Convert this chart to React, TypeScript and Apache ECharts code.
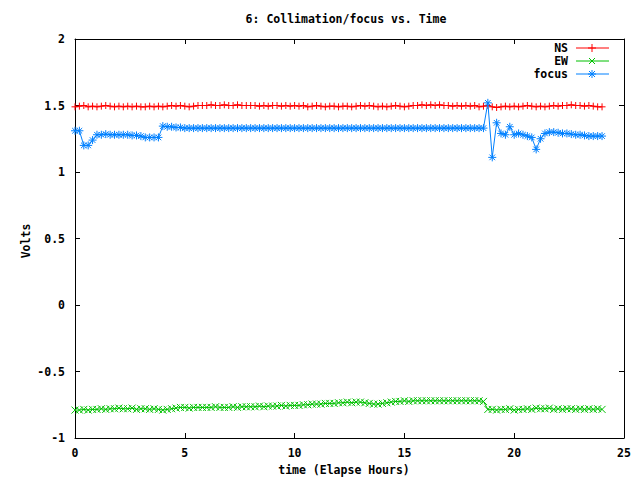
import React, { useEffect, useRef } from "react";
import * as echarts from "echarts";

const TITLE = "6: Collimation/focus vs. Time";
const X_NAME = "time (Elapse Hours)";
const Y_NAME = "Volts";
const SERIES_NAMES = ["NS", "EW", "focus"];
const COLORS = ["#ff0000", "#00c000", "#0080ff"];

const TIME = [
  0, 0.2, 0.4, 0.6, 0.8, 1, 1.2, 1.4, 1.6, 1.8,
  2, 2.2, 2.4, 2.6, 2.8, 3, 3.2, 3.4, 3.6, 3.8,
  4, 4.2, 4.4, 4.6, 4.8, 5, 5.2, 5.4, 5.6, 5.8,
  6, 6.2, 6.4, 6.6, 6.8, 7, 7.2, 7.4, 7.6, 7.8,
  8, 8.2, 8.4, 8.6, 8.8, 9, 9.2, 9.4, 9.6, 9.8,
  10, 10.2, 10.4, 10.6, 10.8, 11, 11.2, 11.4, 11.6, 11.8,
  12, 12.2, 12.4, 12.6, 12.8, 13, 13.2, 13.4, 13.6, 13.8,
  14, 14.2, 14.4, 14.6, 14.8, 15, 15.2, 15.4, 15.6, 15.8,
  16, 16.2, 16.4, 16.6, 16.8, 17, 17.2, 17.4, 17.6, 17.8,
  18, 18.2, 18.4, 18.6, 18.8, 19, 19.2, 19.4, 19.6, 19.8,
  20, 20.2, 20.4, 20.6, 20.8, 21, 21.2, 21.4, 21.6, 21.8,
  22, 22.2, 22.4, 22.6, 22.8, 23, 23.2, 23.4, 23.6, 23.8,
  24,
];

const NS = [
  1.49, 1.495, 1.5, 1.49, 1.495, 1.49, 1.495, 1.5, 1.495, 1.49,
  1.495, 1.49, 1.495, 1.49, 1.495, 1.49, 1.49, 1.495, 1.49, 1.495,
  1.49, 1.495, 1.5, 1.495, 1.5, 1.495, 1.49, 1.495, 1.5, 1.5,
  1.5, 1.505, 1.5, 1.5, 1.505, 1.5, 1.5, 1.505, 1.5, 1.5,
  1.5, 1.5, 1.495, 1.5, 1.495, 1.5, 1.5, 1.495, 1.5, 1.495,
  1.5, 1.495, 1.5, 1.49, 1.495, 1.5, 1.495, 1.49, 1.495, 1.495,
  1.49, 1.495, 1.495, 1.49, 1.495, 1.5, 1.495, 1.5, 1.495, 1.49,
  1.495, 1.49, 1.495, 1.5, 1.495, 1.49, 1.495, 1.5, 1.5, 1.505,
  1.5, 1.505, 1.5, 1.505, 1.5, 1.5, 1.495, 1.5, 1.495, 1.5,
  1.495, 1.5, 1.49, 1.495, 1.5, 1.49, 1.485, 1.49, 1.495, 1.49,
  1.495, 1.49, 1.495, 1.5, 1.495, 1.49, 1.495, 1.49, 1.495, 1.5,
  1.495, 1.5, 1.5, 1.505, 1.5, 1.5, 1.495, 1.5, 1.495, 1.49,
  1.49,
];

const EW = [
  -0.79, -0.79, -0.785, -0.79, -0.785, -0.785, -0.78, -0.785, -0.78, -0.78,
  -0.775, -0.78, -0.78, -0.775, -0.785, -0.78, -0.78, -0.785, -0.78, -0.785,
  -0.79, -0.785, -0.78, -0.775, -0.77, -0.77, -0.775, -0.77, -0.77, -0.77,
  -0.77, -0.77, -0.765, -0.77, -0.77, -0.77, -0.765, -0.77, -0.765, -0.765,
  -0.765, -0.765, -0.76, -0.765, -0.76, -0.76, -0.76, -0.755, -0.76, -0.755,
  -0.755, -0.755, -0.75, -0.75, -0.745, -0.745, -0.745, -0.74, -0.74, -0.74,
  -0.735, -0.735, -0.73, -0.735, -0.73, -0.73, -0.735, -0.74, -0.745, -0.745,
  -0.74, -0.735, -0.73, -0.725, -0.725, -0.72, -0.725, -0.72, -0.72, -0.72,
  -0.72, -0.72, -0.72, -0.72, -0.72, -0.72, -0.72, -0.72, -0.72, -0.72,
  -0.72, -0.72, -0.72, -0.725, -0.785, -0.785, -0.79, -0.785, -0.785, -0.78,
  -0.79, -0.785, -0.785, -0.78, -0.785, -0.775, -0.78, -0.78, -0.775, -0.785,
  -0.78, -0.785, -0.78, -0.78, -0.785, -0.78, -0.785, -0.78, -0.785, -0.78,
  -0.785,
];

const FOCUS = [
  1.31, 1.31, 1.2, 1.2, 1.24, 1.28, 1.28, 1.285, 1.28, 1.28,
  1.28, 1.28, 1.28, 1.275, 1.275, 1.27, 1.26, 1.26, 1.26, 1.26,
  1.345, 1.34, 1.34, 1.335, 1.335, 1.33, 1.33, 1.33, 1.33, 1.33,
  1.33, 1.33, 1.33, 1.33, 1.33, 1.33, 1.33, 1.33, 1.33, 1.33,
  1.33, 1.33, 1.33, 1.33, 1.33, 1.33, 1.33, 1.33, 1.33, 1.33,
  1.33, 1.33, 1.33, 1.33, 1.33, 1.33, 1.33, 1.33, 1.33, 1.33,
  1.33, 1.33, 1.33, 1.33, 1.33, 1.33, 1.33, 1.33, 1.33, 1.33,
  1.33, 1.33, 1.33, 1.33, 1.33, 1.33, 1.33, 1.33, 1.33, 1.33,
  1.33, 1.33, 1.33, 1.33, 1.33, 1.33, 1.33, 1.33, 1.33, 1.33,
  1.33, 1.33, 1.33, 1.33, 1.52, 1.11, 1.37, 1.29, 1.28, 1.34,
  1.28, 1.29, 1.28, 1.27, 1.26, 1.17, 1.25, 1.29, 1.3, 1.3,
  1.295, 1.29, 1.29, 1.285, 1.28, 1.28, 1.275, 1.27, 1.27, 1.27,
  1.27,
];

const X_MIN = 0, X_MAX = 25, X_STEP = 5;
const Y_MIN = -1, Y_MAX = 2, Y_STEP = 0.5;

const FONT = '"DejaVu Sans Mono", "Liberation Mono", monospace';
const SYMBOLS = [
  "path://M0,5L10,5M5,0L5,10",
  "path://M0,0L10,10M10,0L0,10",
  "path://M0,5L10,5M5,0L5,10M1.5,1.5L8.5,8.5M8.5,1.5L1.5,8.5",
];
const SYMBOL_SIZES = [7, 7, 8];

function pairs(vals: number[]) {
  return TIME.map((t, i) => [t, vals[i]]);
}

export default function App() {
  const ref = useRef<HTMLDivElement>(null);
  useEffect(() => {
    document.body.style.margin = "0";
    if (!ref.current) return;
    const chart = echarts.init(ref.current, null, { renderer: "svg" });
    const tickStyle = { color: "#000", width: 1 };
    const baseAxis = {
      type: "value" as const,
      axisLine: { show: true, onZero: false, lineStyle: { color: "#000", width: 1 } },
      axisTick: { show: true, inside: true, length: 5, lineStyle: tickStyle },
      splitLine: { show: false },
    };
    const labelStyle = { color: "#000", fontFamily: FONT, fontSize: 11.5, fontWeight: "bold" as const };
    const allData = [NS, EW, FOCUS];
    const legendX = 592;
    const legendYs = [48, 61, 74];
    const legendGraphics: any[] = [];
    SERIES_NAMES.forEach((name, i) => {
      const y = legendYs[i];
      const c = COLORS[i];
      legendGraphics.push({
        type: "text", x: 568, y,
        style: { text: name, font: `bold 11.5px ${FONT}`, fill: "#000", align: "right", verticalAlign: "middle" },
      });
      legendGraphics.push({ type: "line", shape: { x1: 576, y1: y, x2: 609, y2: y }, style: { stroke: c, lineWidth: 1 } });
      if (i === 0 || i === 2) {
        legendGraphics.push({ type: "line", shape: { x1: legendX - 4, y1: y, x2: legendX + 4, y2: y }, style: { stroke: c, lineWidth: 1 } });
        legendGraphics.push({ type: "line", shape: { x1: legendX, y1: y - 4, x2: legendX, y2: y + 4 }, style: { stroke: c, lineWidth: 1 } });
      }
      if (i === 1 || i === 2) {
        legendGraphics.push({ type: "line", shape: { x1: legendX - 3, y1: y - 3, x2: legendX + 3, y2: y + 3 }, style: { stroke: c, lineWidth: 1 } });
        legendGraphics.push({ type: "line", shape: { x1: legendX + 3, y1: y - 3, x2: legendX - 3, y2: y + 3 }, style: { stroke: c, lineWidth: 1 } });
      }
    });
    chart.setOption({
      animation: false,
      backgroundColor: "#fff",
      grid: { left: 75, right: 16, top: 39, bottom: 42, containLabel: false },
      xAxis: [
        { ...baseAxis, min: X_MIN, max: X_MAX, interval: X_STEP, position: "bottom",
          axisLabel: { ...labelStyle, margin: 9 } },
        { ...baseAxis, min: X_MIN, max: X_MAX, interval: X_STEP, position: "top",
          axisLabel: { show: false } },
      ],
      yAxis: [
        { ...baseAxis, min: Y_MIN, max: Y_MAX, interval: Y_STEP, position: "left",
          axisLabel: { ...labelStyle, margin: 10 } },
        { ...baseAxis, min: Y_MIN, max: Y_MAX, interval: Y_STEP, position: "right",
          axisLabel: { show: false } },
      ],
      series: SERIES_NAMES.map((name, i) => ({
        name,
        type: "line",
        xAxisIndex: 0,
        yAxisIndex: 0,
        data: pairs(allData[i]),
        showAllSymbol: true,
        symbol: SYMBOLS[i],
        symbolSize: SYMBOL_SIZES[i],
        lineStyle: { color: COLORS[i], width: 1 },
        itemStyle: { color: COLORS[i], borderColor: COLORS[i], borderWidth: 1 },
        emphasis: { disabled: true },
        z: 2 + i,
      })),
      graphic: [
        { type: "text", x: 346, y: 19,
          style: { text: TITLE, font: `bold 11.5px ${FONT}`, fill: "#000", align: "center", verticalAlign: "middle" } },
        { type: "text", x: 344, y: 470,
          style: { text: X_NAME, font: `bold 11.5px ${FONT}`, fill: "#000", align: "center", verticalAlign: "middle" } },
        { type: "text", x: 26, y: 241, rotation: Math.PI / 2,
          style: { text: Y_NAME, font: `bold 11.5px ${FONT}`, fill: "#000", align: "center", verticalAlign: "middle" } },
        ...legendGraphics,
      ],
    });
    return () => chart.dispose();
  }, []);
  return <div ref={ref} style={{ width: 640, height: 480 }} />;
}
